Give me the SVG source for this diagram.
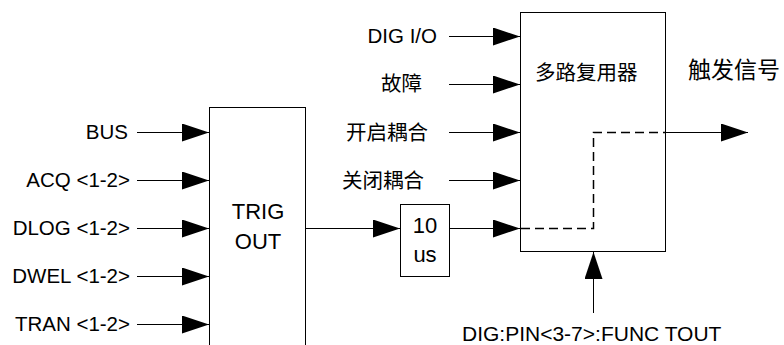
<svg xmlns="http://www.w3.org/2000/svg" width="784" height="345" viewBox="0 0 784 345">
<style>
.box{fill:#fff;stroke:#000;stroke-width:1}
.ln{fill:none;stroke:#000;stroke-width:1}
.dash{fill:none;stroke:#000;stroke-width:1.5;stroke-dasharray:9 5}
.t{font-family:"Liberation Sans",Arial,sans-serif;font-size:20.5px;fill:#000}
.c{font-family:"Liberation Sans","Noto Sans CJK SC",sans-serif;font-size:20.5px;fill:#000}
.big{font-family:"Liberation Sans",Arial,sans-serif;font-size:22px;fill:#000;text-anchor:middle}
</style>
<defs>
<marker id="ah" viewBox="0 0 27 18" refX="27" refY="9" markerWidth="27" markerHeight="18" markerUnits="userSpaceOnUse" orient="auto">
<path d="M0,0 L27,9 L0,18 Z" fill="#000"/>
</marker>
</defs>
<g id="trigout">
<rect class="box" x="209.5" y="107.5" width="96" height="260"/>
<text class="big" x="258" y="219">TRIG</text>
<text class="big" x="258" y="249">OUT</text>
</g>
<g id="delay">
<rect class="box" x="400.5" y="204.5" width="49" height="72"/>
<text class="big" x="425" y="233">10</text>
<text class="big" x="425" y="262">us</text>
</g>
<g id="mux">
<rect class="box" x="520.5" y="12.5" width="145" height="239"/>
<text class="c" x="535" y="80">多路复用器</text>
</g>
<g id="labels">
<text class="t" x="128" y="139" text-anchor="end">BUS</text>
<text class="t" x="130" y="187" text-anchor="end">ACQ &lt;1-2&gt;</text>
<text class="t" x="130" y="235" text-anchor="end">DLOG &lt;1-2&gt;</text>
<text class="t" x="130" y="283" text-anchor="end">DWEL &lt;1-2&gt;</text>
<text class="t" x="130" y="331" text-anchor="end">TRAN &lt;1-2&gt;</text>
<text class="t" x="437" y="43" text-anchor="end">DIG I/O</text>
<text class="c" x="381" y="91">故障</text>
<text class="c" x="346" y="140">开启耦合</text>
<text class="c" x="342" y="188">关闭耦合</text>
<text class="c" x="688" y="78" style="font-size:23px">触发信号</text>
<text class="t" x="462" y="341" style="font-size:21px">DIG:PIN&lt;3-7&gt;:FUNC TOUT</text>
</g>
<g id="connectors">
<path class="ln" d="M137,132.5 H209" marker-end="url(#ah)"/>
<path class="ln" d="M137,180.5 H209" marker-end="url(#ah)"/>
<path class="ln" d="M137,228.5 H209" marker-end="url(#ah)"/>
<path class="ln" d="M137,276.5 H209" marker-end="url(#ah)"/>
<path class="ln" d="M137,324.5 H209" marker-end="url(#ah)"/>
<path class="ln" d="M449,36.5 H520" marker-end="url(#ah)"/>
<path class="ln" d="M449,84.5 H520" marker-end="url(#ah)"/>
<path class="ln" d="M449,132.5 H520" marker-end="url(#ah)"/>
<path class="ln" d="M449,180.5 H520" marker-end="url(#ah)"/>
<path class="ln" d="M306,228.5 H400" marker-end="url(#ah)"/>
<path class="ln" d="M450,228.5 H520" marker-end="url(#ah)"/>
<path class="dash" d="M521,228.5 H593.5 V132.5 H666"/>
<path class="ln" d="M666,132.5 H748" marker-end="url(#ah)"/>
<path class="ln" d="M593.5,313 V252" marker-end="url(#ah)"/>
</g>
</svg>
